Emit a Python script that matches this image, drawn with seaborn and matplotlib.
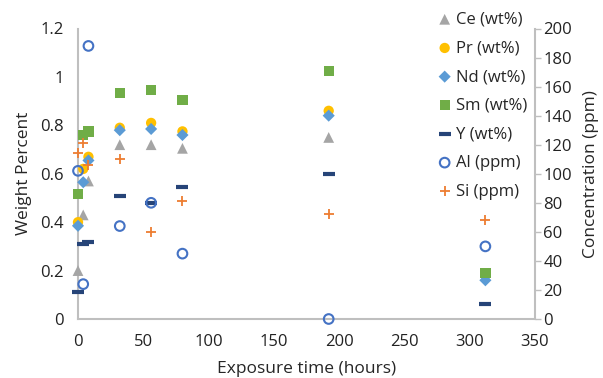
import matplotlib
matplotlib.use("Agg")
import matplotlib.pyplot as plt
import seaborn as sns
import numpy as np

# ---- data ----
hours = [0, 4, 8, 32, 56, 80, 192, 312]
ce_wt = [0.20, 0.43, 0.57, 0.72, 0.72, 0.705, 0.75, 0.18]
pr_wt = [0.40, 0.62, 0.67, 0.79, 0.81, 0.775, 0.86, 0.185]
nd_wt = [0.385, 0.565, 0.655, 0.78, 0.785, 0.76, 0.84, 0.16]
sm_wt = [0.515, 0.76, 0.775, 0.935, 0.945, 0.905, 1.025, 0.19]
y_wt = [0.11, 0.31, 0.32, 0.51, 0.48, 0.545, 0.60, 0.06]
al_ppm = [102, 24, 188, 64, 80, 45, 0, 50]
si_ppm = [114, 121, 106, 110, 60, 81, 72, 68]

left_ticks = [0, 0.2, 0.4, 0.6, 0.8, 1.0, 1.2]
left_ticklabels = ["0", "0.2", "0.4", "0.6", "0.8", "1", "1.2"]
right_ticks = [0, 20, 40, 60, 80, 100, 120, 140, 160, 180, 200]
x_ticks = [0, 50, 100, 150, 200, 250, 300, 350]

sns.set_style("white")
plt.rcParams["font.family"] = ["Open Sans", "DejaVu Sans"]

fig = plt.figure(figsize=(6.03, 3.78), dpi=100)
ax = fig.add_axes([78/603, 1-319/378, (535-78)/603, (319-28.5)/378])
ax2 = ax.twinx()

spine_c = "#BFBFBF"

left_series = [
    ("Ce (wt%)", ce_wt, "^", "#A5A5A5", 60),
    ("Pr (wt%)", pr_wt, "o", "#FFC000", 55),
    ("Nd (wt%)", nd_wt, "D", "#5B9BD5", 38),
    ("Sm (wt%)", sm_wt, "s", "#70AD47", 55),
]
for lab, vals, m, c, s in left_series:
    sns.scatterplot(x=hours, y=vals, ax=ax, marker=m, color=c, s=s,
                    edgecolor="none", label=lab, legend=False, zorder=3,
                    clip_on=False)
sns.scatterplot(x=hours, y=y_wt, ax=ax, marker="_", color="#264478", s=75,
                linewidth=3, label="Y (wt%)", legend=False, zorder=3,
                clip_on=False)

sns.scatterplot(x=hours, y=al_ppm, ax=ax2, marker="o", facecolor="none",
                edgecolor="#4472C4", linewidth=1.5, s=48, label="Al (ppm)",
                legend=False, zorder=3, clip_on=False)
sns.scatterplot(x=hours, y=si_ppm, ax=ax2, marker="+", color="#ED7D31",
                s=50, linewidth=1.3, label="Si (ppm)", legend=False, zorder=3,
                clip_on=False)

ax.set_xlim(0, 350)
ax.set_ylim(0, 1.2)
ax2.set_ylim(0, 200)
ax.set_xticks(x_ticks)
ax.set_yticks(left_ticks)
ax.set_yticklabels(left_ticklabels)
ax2.set_yticks(right_ticks)

for a in (ax, ax2):
    for sp in a.spines.values():
        sp.set_visible(False)
ax.spines["left"].set_visible(True)
ax.spines["bottom"].set_visible(True)
ax2.spines["right"].set_visible(True)
for a, side in ((ax, "left"), (ax, "bottom"), (ax2, "right")):
    a.spines[side].set_color(spine_c)
    a.spines[side].set_linewidth(1.5)

ax.tick_params(axis="both", length=0, labelsize=12, colors="#222222")
ax.tick_params(axis="y", pad=10)
ax.tick_params(axis="x", pad=11)
ax2.tick_params(axis="y", length=4, width=1, color=spine_c, labelsize=12,
                colors="#222222", pad=2)
ax2.tick_params(axis="y", color=spine_c)

ax.set_xlabel("Exposure time (hours)", fontsize=12.5, labelpad=8)
ax.set_ylabel("Weight Percent", fontsize=12.5, labelpad=6)
ax2.set_ylabel("Concentration (ppm)", fontsize=12.5, labelpad=8)

h1, l1 = ax.get_legend_handles_labels()
h2, l2 = ax2.get_legend_handles_labels()
leg = fig.legend(h1 + h2, l1 + l2, loc="upper left",
                 bbox_to_anchor=(428/603, 1.0), frameon=False,
                 fontsize=12, handlelength=0.6, handletextpad=0.4,
                 labelspacing=0.76, borderpad=0.2)

fig.savefig("out.png", dpi=100)
